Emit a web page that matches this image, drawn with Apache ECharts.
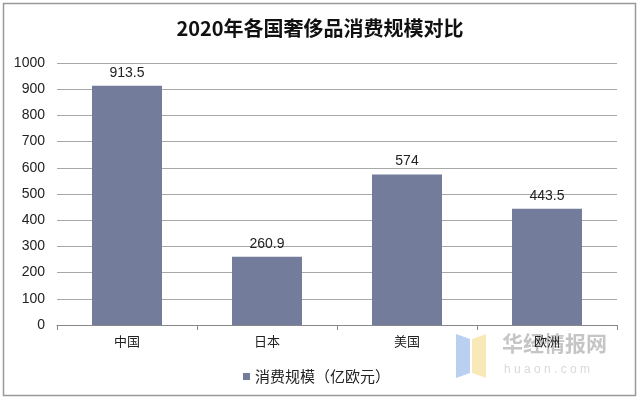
<!DOCTYPE html>
<html><head><meta charset="utf-8">
<script src="https://cdn.jsdelivr.net/npm/echarts@6/dist/echarts.min.js"></script>
<style>html,body{margin:0;padding:0;background:#fff}#c{width:640px;height:401px}</style>
</head><body><div id="c"></div>
<script>
const categories = ['中国','日本','美国','欧洲'];
const values = [913.5, 260.9, 574, 443.5];
const valueLabels = ['913.5','260.9','574','443.5'];
const seriesName = '消费规模（亿欧元）';
const yTicks = {min:0, max:1000, interval:100};

const chart = echarts.init(document.getElementById('c'));
chart.setOption({
  backgroundColor:'#fff',
  animation:false,
  title:{text:'2020年各国奢侈品消费规模对比', left:'center', top:13,
    textStyle:{fontFamily:'Noto Sans CJK SC', fontWeight:'bold', fontSize:20, color:'#111'}},
  grid:{left:57, right:23, top:63, bottom:76},
  legend:{data:[seriesName], bottom:12, left:238, itemWidth:7, itemHeight:7, itemGap:4,
    icon:'rect', textStyle:{fontFamily:'Noto Sans CJK SC', fontSize:15, color:'#222'}},
  xAxis:{type:'category', data:categories,
    axisLine:{lineStyle:{color:'#888'}},
    axisTick:{show:true, length:5, lineStyle:{color:'#888'}},
    axisLabel:{fontFamily:'Noto Sans CJK SC', fontSize:13, color:'#222', margin:10}},
  yAxis:{type:'value', min:yTicks.min, max:yTicks.max, interval:yTicks.interval,
    axisLine:{show:false}, axisTick:{show:false},
    splitLine:{lineStyle:{color:'#a8a8a8'}},
    axisLabel:{fontFamily:'Liberation Sans', fontSize:14, color:'#222', margin:12, formatter:v=>String(v)}},
  series:[{name:seriesName, type:'bar', data:values, barWidth:'50%',
    itemStyle:{color:'#737d9b'},
    label:{show:true, position:'top', distance:6, fontFamily:'Liberation Sans', fontSize:14, color:'#222',
      formatter:p=>valueLabels[p.dataIndex]}}],
  graphic:[
    {type:'rect', shape:{x:3.5,y:3.5,width:632,height:392}, style:{fill:'none', stroke:'#999', lineWidth:1.5}, silent:true},
    {type:'polygon', shape:{points:[[456,334],[470,339],[470,373],[456,378]]}, style:{fill:'#a7c4ee', opacity:0.8}},
    {type:'polygon', shape:{points:[[472,339],[486,334],[486,378],[472,373]]}, style:{fill:'#f8e4a8', opacity:0.8}},
    {type:'text', left:502, top:333, style:{text:'华经情报网', font:'bold 21px "Noto Sans CJK SC"', fill:'rgba(150,150,150,0.55)'}},
    {type:'text', left:504, top:364, style:{text:'h u a o n . c o m', font:'12px "Liberation Sans"', fill:'rgba(170,170,170,0.45)'}}
  ]
});
</script></body></html>
